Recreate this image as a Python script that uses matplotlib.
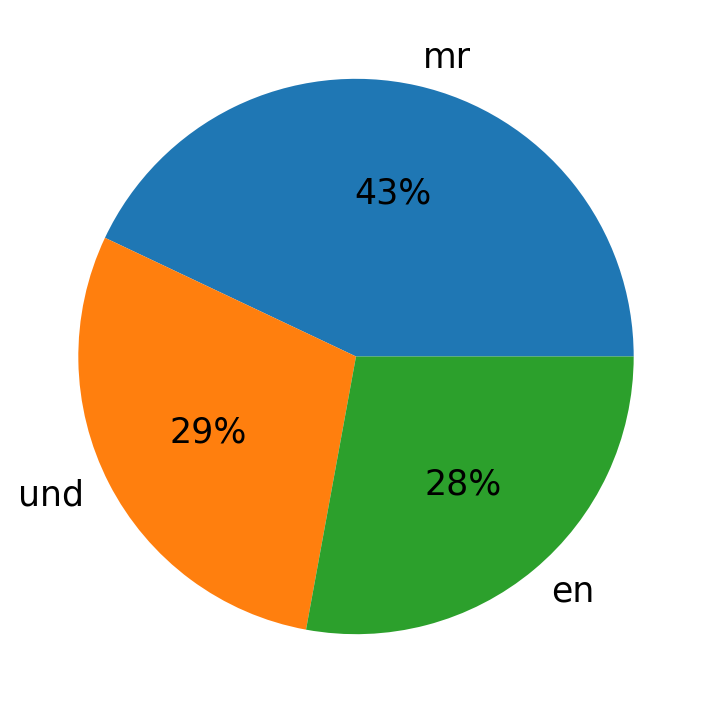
import matplotlib
matplotlib.use('Agg')
import matplotlib.pyplot as plt

# language share
labels = ['mr', 'und', 'en']
values = [42.97, 29.15, 27.88]
colors = ['#1f77b4', '#ff7f0e', '#2ca02c']

fig = plt.figure(figsize=(7.12, 7.13), dpi=100)
ax = fig.add_axes([0.0125, 0.0125, 0.975, 0.975])
ax.pie(values, labels=labels, colors=colors, autopct='%1.0f%%',
       textprops={'fontsize': 25})
ax.set_aspect('equal')

fig.savefig('out.png', dpi=100)
